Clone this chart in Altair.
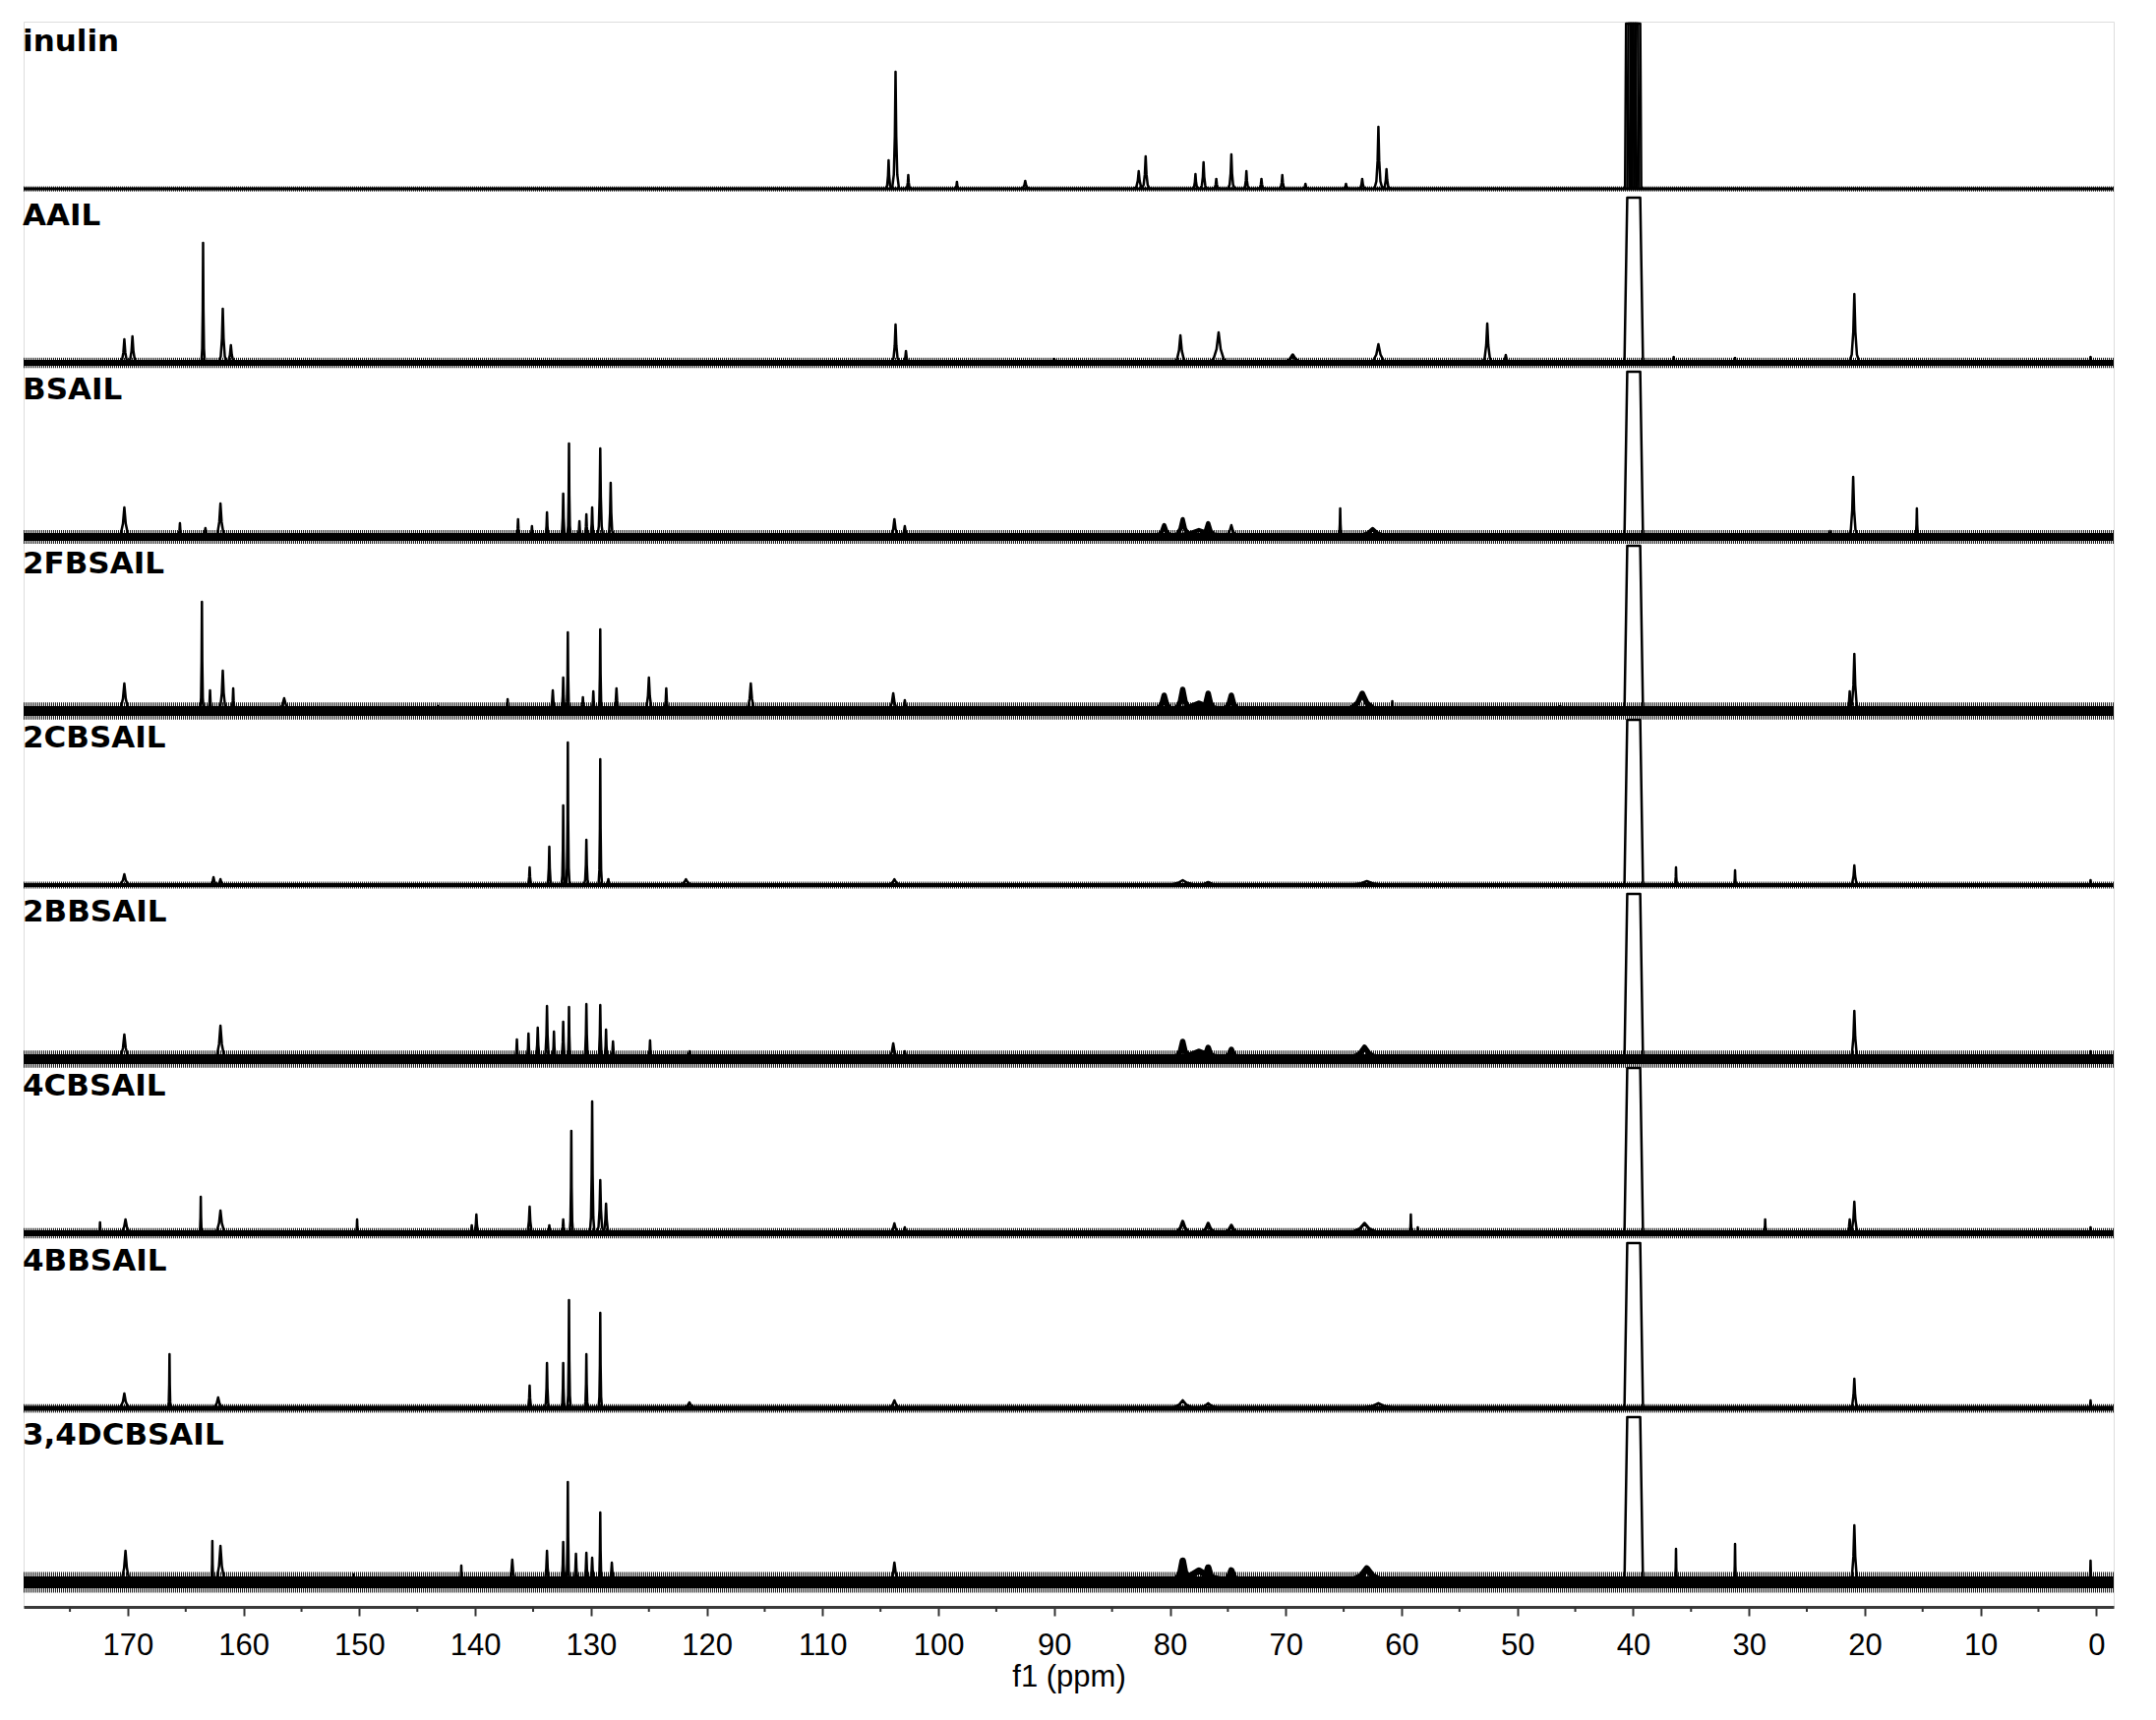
import altair as alt
import pandas as pd

# ---------------- data ----------------
samples = ["inulin", "AAIL", "BSAIL", "2FBSAIL", "2CBSAIL", "2BBSAIL",
           "4CBSAIL", "4BBSAIL", "3,4DCBSAIL"]
# vertical offset of each trace baseline (stacked display units)
offsets = [1442, 1265, 1088, 911, 734, 557, 380, 202, 25]
# baseline noise: dense core thickness of each trace (display units)
noise = [3, 6, 8, 10, 4, 10, 6, 5, 12]

# peaks: (ppm, height, half-width in ppm)
peaks_inulin = [
    (104.3, 29, 0.25), (103.7, 119, 0.3), (102.6, 14, 0.2), (98.4, 7, 0.2),
    (92.5, 8, 0.4), (82.7, 18, 0.4), (82.1, 33, 0.35), (77.8, 15, 0.25),
    (77.1, 27, 0.3), (76.0, 10, 0.25), (74.7, 35, 0.3), (73.4, 18, 0.25),
    (72.1, 10, 0.25), (70.3, 14, 0.25), (68.3, 5, 0.25), (64.8, 5, 0.25),
    (63.4, 10, 0.3), (62.0, 63, 0.35), (61.3, 20, 0.3),
]
peaks_aail = [
    (170.3, 24, 0.4), (169.6, 27, 0.4), (163.5, 122, 0.15), (161.8, 55, 0.35),
    (161.1, 18, 0.4), (103.7, 39, 0.35), (102.8, 12, 0.3), (90.0, 4, 0.5),
    (79.1, 28, 0.6), (75.8, 31, 0.9), (69.4, 8, 1.2), (62.0, 19, 0.9),
    (52.6, 40, 0.45), (51.0, 8, 0.4), (36.5, 6, 0.2), (31.2, 5, 0.2),
    (20.9, 70, 0.45), (0.5, 6, 0.2),
]
peaks_bsail = [
    (170.3, 30, 0.6), (165.5, 14, 0.2), (163.3, 9, 0.4), (162.0, 34, 0.5),
    (136.3, 18, 0.2), (135.1, 11, 0.2), (133.8, 25, 0.2), (132.4, 44, 0.2),
    (131.9, 95, 0.15), (131.0, 16, 0.2), (130.4, 23, 0.2), (129.9, 30, 0.2),
    (129.2, 90, 0.25), (128.3, 55, 0.25), (103.8, 18, 0.5), (102.9, 11, 0.4),
    (77.5, 7, 4.5), (80.5, 12, 1.0), (78.9, 18, 1.0), (76.7, 14, 1.0),
    (74.7, 12, 0.8), (65.3, 29, 0.15), (62.5, 8, 2.0), (23.0, 6, 0.2),
    (21.0, 61, 0.4), (15.5, 29, 0.15),
]
peaks_2fbsail = [
    (170.3, 28, 0.6), (163.6, 111, 0.15), (162.9, 21, 0.2), (161.8, 41, 0.4),
    (160.9, 23, 0.2), (156.5, 13, 0.8), (143.2, 5, 0.2), (137.2, 12, 0.15),
    (133.3, 21, 0.3), (132.4, 34, 0.2), (132.0, 80, 0.15), (130.7, 14, 0.2),
    (129.8, 20, 0.2), (129.2, 83, 0.15), (127.8, 23, 0.3), (125.0, 34, 0.4),
    (123.5, 23, 0.25), (116.2, 28, 0.5), (103.9, 18, 0.6), (102.9, 11, 0.4),
    (77.5, 8, 4.5), (80.5, 16, 1.0), (78.9, 22, 1.0), (76.7, 18, 1.0),
    (74.7, 16, 1.0), (63.4, 18, 2.0), (60.8, 10, 0.15), (46.3, 5, 0.2),
    (21.3, 20, 0.3), (20.9, 58, 0.4),
]
peaks_2cbsail = [
    (170.3, 11, 0.6), (162.6, 8, 0.4), (162.0, 6, 0.4), (135.3, 18, 0.2),
    (133.6, 39, 0.2), (132.4, 81, 0.15), (132.0, 145, 0.15), (130.4, 46, 0.2),
    (129.2, 128, 0.15), (128.5, 6, 0.2), (121.8, 6, 0.8), (103.8, 6, 0.8),
    (78.9, 5, 2.0), (76.7, 3, 1.5), (63.0, 4, 2.5), (36.3, 18, 0.12),
    (31.2, 15, 0.12), (20.9, 20, 0.35), (0.5, 5, 0.15),
]
peaks_2bbsail = [
    (170.3, 25, 0.6), (162.0, 34, 0.6), (136.4, 20, 0.2), (135.4, 26, 0.2),
    (134.6, 32, 0.25), (133.8, 54, 0.25), (133.2, 28, 0.2), (132.4, 38, 0.2),
    (131.9, 53, 0.15), (130.4, 56, 0.2), (129.2, 55, 0.2), (128.7, 30, 0.2),
    (128.1, 18, 0.25), (124.9, 19, 0.2), (121.5, 8, 0.5), (103.9, 16, 0.6),
    (102.9, 8, 0.4), (77.5, 8, 4.5), (78.9, 18, 1.0), (76.7, 12, 1.0),
    (74.7, 10, 1.0), (63.2, 12, 2.0), (20.9, 49, 0.4), (0.5, 8, 0.15),
]
peaks_4cbsail = [
    (172.4, 11, 0.12), (170.2, 14, 0.6), (163.7, 37, 0.12), (162.0, 23, 0.6),
    (150.2, 14, 0.12), (140.3, 8, 0.2), (139.9, 19, 0.25), (135.3, 27, 0.3),
    (133.6, 8, 0.2), (132.4, 14, 0.2), (131.7, 104, 0.15), (129.9, 134, 0.2),
    (129.2, 54, 0.3), (128.7, 30, 0.3), (103.8, 10, 0.6), (102.9, 6, 0.4),
    (78.9, 12, 1.0), (76.7, 10, 1.0), (74.7, 8, 1.0), (63.2, 10, 2.0),
    (59.2, 19, 0.12), (58.6, 6, 0.12), (28.6, 14, 0.12), (21.3, 14, 0.3),
    (20.9, 32, 0.4), (0.5, 6, 0.15),
]
peaks_4bbsail = [
    (170.3, 15, 0.6), (166.4, 55, 0.12), (162.2, 11, 0.6), (135.3, 23, 0.2),
    (133.8, 46, 0.2), (132.4, 46, 0.15), (131.9, 110, 0.15), (130.4, 55, 0.15),
    (129.2, 97, 0.15), (121.5, 6, 0.8), (103.8, 8, 0.8), (78.9, 8, 1.5),
    (76.7, 5, 1.5), (62.0, 5, 2.5), (20.9, 30, 0.35), (0.5, 8, 0.15),
]
peaks_34dcbsail = [
    (170.2, 32, 0.6), (162.7, 42, 0.12), (162.0, 37, 0.6), (150.5, 8, 0.12),
    (141.2, 17, 0.12), (136.8, 23, 0.4), (133.8, 32, 0.3), (132.4, 41, 0.2),
    (132.0, 102, 0.15), (131.3, 29, 0.25), (130.4, 30, 0.25), (129.9, 25, 0.25),
    (129.2, 71, 0.15), (128.2, 20, 0.3), (103.8, 20, 0.6), (77.5, 12, 4.5),
    (78.9, 22, 1.0), (76.7, 15, 1.0), (74.7, 12, 1.0), (63.0, 14, 2.5),
    (36.3, 34, 0.12), (31.2, 39, 0.12), (20.9, 58, 0.4), (0.5, 22, 0.12),
]
peak_lists = [peaks_inulin, peaks_aail, peaks_bsail, peaks_2fbsail,
              peaks_2cbsail, peaks_2bbsail, peaks_4cbsail, peaks_4bbsail,
              peaks_34dcbsail]

# DMSO-d6 solvent signal, clipped in every trace: (centre ppm, half-width)
dmso_height = 168
dmso_inulin = [(40.4, 0.3), (40.2, 0.3), (40.0, 0.3), (39.8, 0.3), (39.6, 0.3)]
dmso_other = [(39.95, 0.8)]

# peak glyph templates (offset as fraction of half-width, height fraction)
peak_dx = [-1.0, -0.5, -0.2, 0.0, 0.2, 0.5, 1.0]
peak_fy = [0.0, 0.12, 0.45, 1.0, 0.45, 0.12, 0.0]
clip_dx = [-1.0, -0.7, 0.7, 1.0]
clip_fy = [0.0, 1.0, 1.0, 0.0]

major_ticks = list(range(0, 171, 10))
minor_ticks = list(range(5, 176, 10))

# ---------------- build tables ----------------
rows = []
pid = 0
for si, name in enumerate(samples):
    base = offsets[si]
    for (c, h, w) in peak_lists[si]:
        # broad humps carry part of the trace's noise along with them
        sw = 2.5 if w < 1.0 else max(2.5, noise[si] * 0.55)
        for dx, fy in zip(peak_dx, peak_fy):
            rows.append({"sample": name, "pid": pid, "ppm": c + dx * w,
                         "y": base + fy * h, "sw": sw})
        pid += 1
    for (c, w) in (dmso_inulin if si == 0 else dmso_other):
        for dx, fy in zip(clip_dx, clip_fy):
            rows.append({"sample": name, "pid": pid, "ppm": c + dx * w,
                         "y": base + fy * dmso_height, "sw": 2.5})
        pid += 1
peaks_df = pd.DataFrame(rows)

base_df = pd.DataFrame({
    "sample": samples,
    "base": offsets,
    "core": noise,
    "fringe": [n * 1.75 for n in noise],
    "label_y": [o + 140 for o in offsets],
})
minor_df = pd.DataFrame({"ppm": minor_ticks})

W, H = 2125, 1612
xscale = alt.Scale(domain=[-1.5, 179.0], reverse=True, nice=False, zero=False)
yscale = alt.Scale(domain=[0, H], nice=False, zero=False)

xaxis = alt.Axis(
    values=major_ticks, format="d", grid=False,
    tickSize=9, tickWidth=2, tickColor="#333333",
    domainColor="#3a3a3a", domainWidth=3,
    labelFont="Liberation Sans", labelFontSize=31, labelColor="#000000",
    labelPadding=15, labelFlush=False, labelOverlap=False,
    title="f1 (ppm)", titleFont="Liberation Sans", titleFontSize=31,
    titleFontWeight="normal", titleColor="#000000", titlePadding=2,
)

ybase = alt.Y("base:Q", scale=yscale, axis=None)

fringe_layer = alt.Chart(base_df).mark_rule(
    color="#000000", opacity=0.9, strokeDash=[1, 1], strokeCap="butt"
).encode(x=alt.value(0), x2=alt.value(W), y=ybase,
         strokeWidth=alt.StrokeWidth("fringe:Q", scale=None))

core_layer = alt.Chart(base_df).mark_rule(color="#000000", strokeCap="butt").encode(
    x=alt.value(0), x2=alt.value(W), y=ybase,
    strokeWidth=alt.StrokeWidth("core:Q", scale=None),
)

peak_layer = alt.Chart(peaks_df).mark_line(color="#000000", strokeJoin="round").encode(
    x=alt.X("ppm:Q", scale=xscale, axis=xaxis),
    y=alt.Y("y:Q", scale=yscale, axis=None),
    detail="pid:N",
    strokeWidth=alt.StrokeWidth("sw:Q", scale=None),
)

minor_layer = alt.Chart(minor_df).mark_rule(color="#333333", strokeWidth=2).encode(
    x=alt.X("ppm:Q", scale=xscale),
    y=alt.value(H), y2=alt.value(H + 5),
)

label_layer = alt.Chart(base_df).mark_text(
    align="left", baseline="alphabetic", font="DejaVu Sans",
    fontSize=31, fontWeight="bold", color="#000000",
).encode(
    x=alt.value(-1),
    y=alt.Y("label_y:Q", scale=yscale, axis=None),
    text="sample:N",
)

chart = alt.layer(
    fringe_layer, core_layer, peak_layer, minor_layer, label_layer
).properties(
    width=W, height=H,
    autosize=alt.AutoSizeParams(type="none"),
    padding={"left": 16, "top": 14, "right": 35, "bottom": 105},
).configure_view(stroke=None).configure(background="white")

chart.save("out.html", embed_options={"renderer": "svg", "actions": False})
